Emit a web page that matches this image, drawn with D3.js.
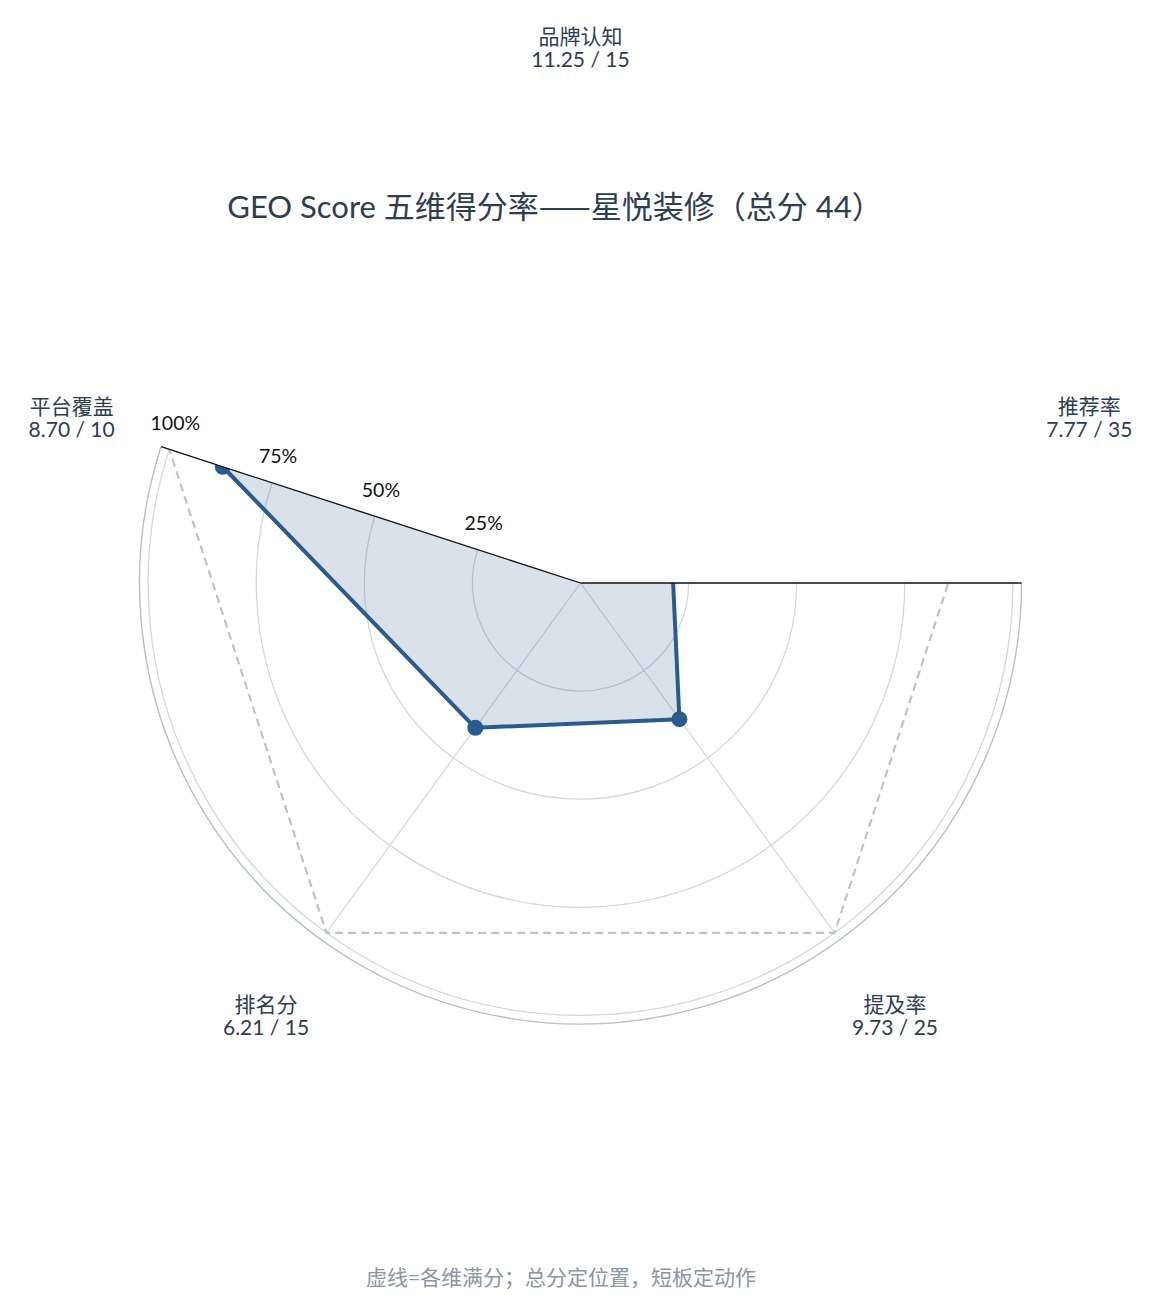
<!DOCTYPE html>
<html>
<head>
<meta charset="utf-8">
<script src="https://cdn.jsdelivr.net/npm/d3@7"></script>
<style>
  body { margin: 0; background: #fff; }
  text { font-family: Lato, "Noto Sans CJK SC", sans-serif; }
</style>
</head>
<body>
<script>
// data
const dims = ["品牌认知", "推荐率", "提及率", "排名分", "平台覆盖"];
const scores = [11.25, 7.77, 9.73, 6.21, 8.70];
const maxScores = [15, 35, 25, 15, 10];
const ringTicks = [0.25, 0.5, 0.75, 1.0];
const ringLabels = ["25%", "50%", "75%", "100%"];
const totalScore = 44;

// page size and polar centre
const width = 1161;
const height = 1313;
const cx = 580.5;
const cy = 583;
const deg = Math.PI / 180;

// visible sector goes clockwise from east (0deg) round to 162deg
const sectorStart = Math.PI / 2;      // d3.arc angle of east
const sectorEnd = 1.6 * Math.PI;      // d3.arc angle of 162deg

let svg = d3.select("body").append("svg")
  .attr("width", width)
  .attr("height", height);

// radius scale, axis limit a little past 100%
let r = d3.scaleLinear().domain([0, 1.02]).range([0, 441]);
// index -> angle (deg, counterclockwise from east), first axis on top
let angle = d3.scaleLinear().domain([0, dims.length]).range([90, 90 - 360]);

function px(i, v) { return cx + r(v) * Math.cos(angle(i) * deg); }
function py(i, v) { return cy - r(v) * Math.sin(angle(i) * deg); }

let g = svg.append("g").attr("transform", "translate(" + cx + "," + cy + ")");

// clip to the sector
svg.append("defs").append("clipPath").attr("id", "sector")
  .append("path")
  .attr("transform", "translate(" + cx + "," + cy + ")")
  .attr("d", d3.arc()({ innerRadius: 0, outerRadius: r(1.02) + 1, startAngle: sectorStart, endAngle: sectorEnd }));

// rings
let ringArc = d3.arc().innerRadius(d => r(d)).outerRadius(d => r(d))
  .startAngle(sectorStart).endAngle(sectorEnd);
g.selectAll(".ring").data(ringTicks).enter().append("path")
  .attr("class", "ring")
  .attr("d", d => ringArc(d))
  .attr("fill", "none")
  .attr("stroke", "#d4d7dc")
  .attr("stroke-width", 1.3);

// outer frame
g.append("path")
  .attr("d", ringArc(1.02))
  .attr("fill", "none")
  .attr("stroke", "#b5c0cc")
  .attr("stroke-width", 1.4);

let plot = svg.append("g").attr("clip-path", "url(#sector)");

// spokes
plot.selectAll(".spoke").data(dims).enter().append("line")
  .attr("class", "spoke")
  .attr("x1", cx).attr("y1", cy)
  .attr("x2", (d, i) => px(i, 1.0))
  .attr("y2", (d, i) => py(i, 1.0))
  .attr("stroke", "#d4d7dc")
  .attr("stroke-width", 1.2);

// full score polygon (dashed)
let fullPts = dims.map((d, i) => [px(i, 1.0), py(i, 1.0)]);
plot.append("path")
  .attr("d", d3.line()(fullPts) + "Z")
  .attr("fill", "none")
  .attr("stroke", "#b9c4cf")
  .attr("stroke-width", 2.2)
  .attr("stroke-dasharray", "8,5");

// score polygon
let pts = scores.map((s, i) => [px(i, s / maxScores[i]), py(i, s / maxScores[i])]);
plot.append("path")
  .attr("d", d3.line()(pts) + "Z")
  .attr("fill", "#2b5b8c")
  .attr("fill-opacity", 0.18)
  .attr("stroke", "#2b5b8c")
  .attr("stroke-width", 4)
  .attr("stroke-linejoin", "round");

plot.selectAll(".dot").data(pts).enter().append("circle")
  .attr("class", "dot")
  .attr("cx", d => d[0])
  .attr("cy", d => d[1])
  .attr("r", 8)
  .attr("fill", "#2b5b8c");

// black sector edges
[0, 162].forEach(a => {
  svg.append("line")
    .attr("x1", cx).attr("y1", cy)
    .attr("x2", cx + r(1.02) * Math.cos(a * deg))
    .attr("y2", cy - r(1.02) * Math.sin(a * deg))
    .attr("stroke", "#111")
    .attr("stroke-width", 1.3);
});

// ring labels along the 162deg edge
let la = 162 * deg;
svg.selectAll(".rlabel").data(ringTicks).enter().append("text")
  .attr("class", "rlabel")
  .attr("x", d => cx + r(d) * Math.cos(la) + 6)
  .attr("y", d => cy - r(d) * Math.sin(la) - 27)
  .attr("text-anchor", "middle")
  .attr("dominant-baseline", "central")
  .attr("font-size", 19.5)
  .attr("fill", "#111")
  .text((d, i) => ringLabels[i]);

// axis labels
let lab = svg.selectAll(".axlabel").data(dims).enter().append("text")
  .attr("class", "axlabel")
  .attr("text-anchor", "middle")
  .attr("font-size", 21)
  .attr("fill", "#2c3e50")
  .attr("transform", (d, i) => "translate(" + px(i, 1.2375) + "," + py(i, 1.2375) + ")");
lab.append("tspan").attr("x", 0).attr("y", -4).text(d => d);
lab.append("tspan").attr("x", 0).attr("y", 19)
  .text((d, i) => scores[i].toFixed(2) + " / " + maxScores[i]);

// title
let title = svg.append("text")
  .attr("x", 555)
  .attr("y", 218)
  .attr("text-anchor", "middle")
  .attr("font-size", 31)
  .attr("fill", "#2c3e50");
title.append("tspan").text("GEO Score 五维得分率");
title.append("tspan").attr("font-family", "'Noto Sans CJK SC'").text("——");
title.append("tspan").text("星悦装修（总分 " + totalScore + "）");

// footer note
svg.append("text")
  .attr("x", 561)
  .attr("y", 1285)
  .attr("text-anchor", "middle")
  .attr("font-size", 21)
  .attr("fill", "#8a96a6")
  .text("虚线=各维满分；总分定位置，短板定动作");
</script>
</body>
</html>
